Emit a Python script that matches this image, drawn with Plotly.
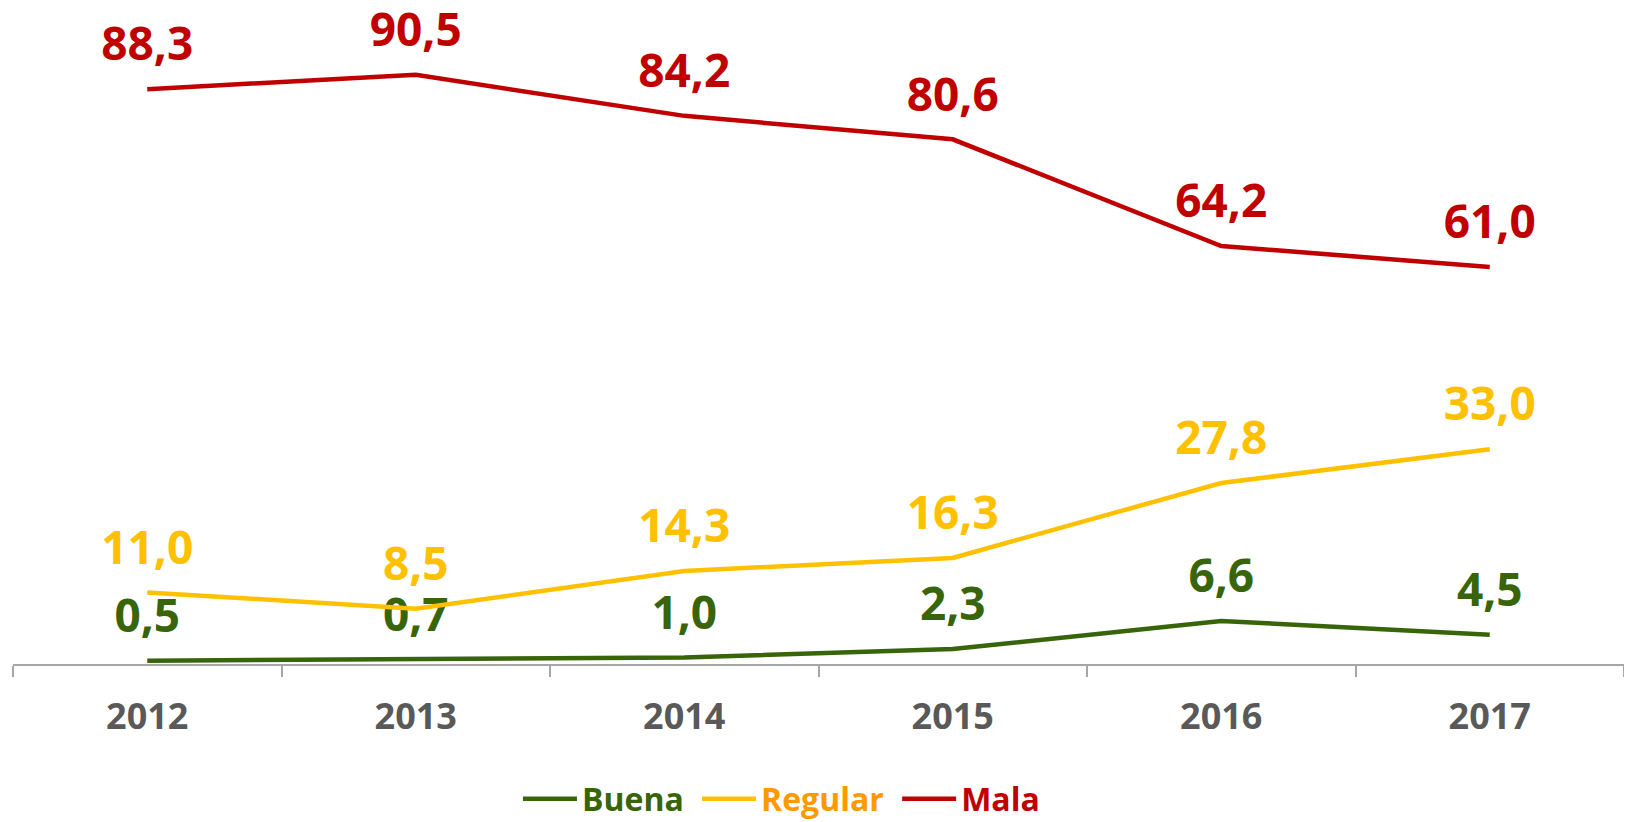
import plotly.graph_objects as go

years = ["2012", "2013", "2014", "2015", "2016", "2017"]
buena = [0.5, 0.7, 1.0, 2.3, 6.6, 4.5]
regular = [11.0, 8.5, 14.3, 16.3, 27.8, 33.0]
mala = [88.3, 90.5, 84.2, 80.6, 64.2, 61.0]

series = [
    ("Buena&nbsp;", buena, "#38640A", "#38640A", "#38640A"),
    ("Regular&nbsp;", regular, "#FFC000", "#FFC000", "#FF9900"),
    ("Mala", mala, "#C00000", "#C00000", "#C00000"),
]

FONT = "Open Sans"
fig = go.Figure()
for name, vals, lcol, tcol, legcol in series:
    fig.add_trace(go.Scatter(
        x=years, y=vals, mode="lines+markers+text",
        name=f"<span style='color:{legcol}'>{name}</span>",
        line=dict(color=lcol, width=4.5),
        marker=dict(size=26, color="rgba(0,0,0,0)", line=dict(width=0)),
        text=[f"{v:.1f}".replace(".", ",") for v in vals],
        textposition="top center",
        textfont=dict(family=FONT, size=46, color=tcol, weight="bold"),
        cliponaxis=False,
        hoverinfo="skip",
    ))

H = 814
fig.update_layout(
    width=1616, height=H,
    margin=dict(l=5, r=0, t=5, b=158, autoexpand=False),
    paper_bgcolor="white", plot_bgcolor="white",
    showlegend=True,
    legend=dict(orientation="h", x=0.477, xanchor="center",
                yref="container", y=23 / H, yanchor="middle",
                font=dict(family=FONT, size=32, weight="bold"), itemwidth=54,
                traceorder="normal"),
)
fig.update_xaxes(
    type="category", range=[-0.5, 5.5], automargin=False,
    showline=True, linecolor="#A6A6A6", linewidth=2,
    ticks="outside", tickson="boundaries", ticklen=11, tickcolor="#A6A6A6", tickwidth=2,
    showgrid=False, zeroline=False,
    tickfont=dict(family=FONT, size=36, color="#595959", weight="bold"),
    ticklabelstandoff=20,
)
fig.update_yaxes(range=[0, 100], showticklabels=False, showline=False, ticks="",
                 showgrid=False, zeroline=False, automargin=False)

fig.write_html("out.html")
